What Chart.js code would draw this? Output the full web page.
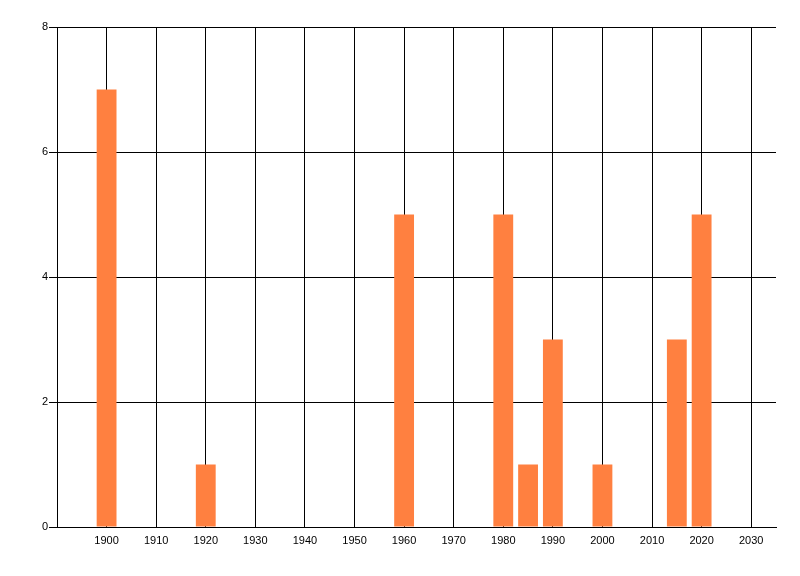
<!DOCTYPE html>
<html>
<head>
<meta charset="utf-8">
<script src="https://cdn.jsdelivr.net/npm/chart.js@4"></script>
<style>
html,body{margin:0;padding:0;background:#fff;}
#wrap{width:800px;height:576px;}
</style>
</head>
<body>
<div id="wrap"><canvas id="c" width="800" height="576"></canvas></div>
<script>
const years = [1900, 1920, 1960, 1980, 1985, 1990, 2000, 2015, 2020];
const counts = [7, 1, 5, 5, 1, 3, 1, 3, 5];
const xTickValues = [1900, 1910, 1920, 1930, 1940, 1950, 1960, 1970, 1980, 1990, 2000, 2010, 2020, 2030];
const yTickValues = [0, 2, 4, 6, 8];

const points = years.map((y, i) => ({x: y, y: counts[i]}));
const font = {family: '"Liberation Sans", Arial, sans-serif', size: 11};

new Chart(document.getElementById('c'), {
  type: 'bar',
  data: {
    datasets: [{
      data: points,
      backgroundColor: '#FF8040',
      borderWidth: 0,
      barPercentage: 1.0,
      categoryPercentage: 0.8
    }]
  },
  options: {
    responsive: false,
    animation: false,
    devicePixelRatio: 1,
    plugins: {legend: {display: false}, tooltip: {enabled: false}},
    layout: {padding: {left: 0, top: 27, right: 24, bottom: 0}},
    scales: {
      x: {
        type: 'linear',
        min: 1890,
        max: 2035,
        offset: false,
        afterBuildTicks: s => { s.ticks = xTickValues.map(v => ({value: v})); },
        afterFit: s => { s.height = 49; },
        ticks: {
          font: font, color: '#000', padding: 7, maxRotation: 0, autoSkip: false,
          callback: v => String(v)
        },
        grid: {color: '#000', lineWidth: 1, drawTicks: false, offset: false},
        border: {color: '#000', width: 1}
      },
      y: {
        min: 0,
        max: 8,
        afterBuildTicks: s => { s.ticks = yTickValues.map(v => ({value: v})); },
        afterFit: s => { s.width = 57; },
        ticks: {font: font, color: '#000', padding: 1, callback: v => String(v)},
        grid: {color: '#000', lineWidth: 1, tickLength: 8},
        border: {color: '#000', width: 1}
      }
    }
  }
});
</script>
</body>
</html>
